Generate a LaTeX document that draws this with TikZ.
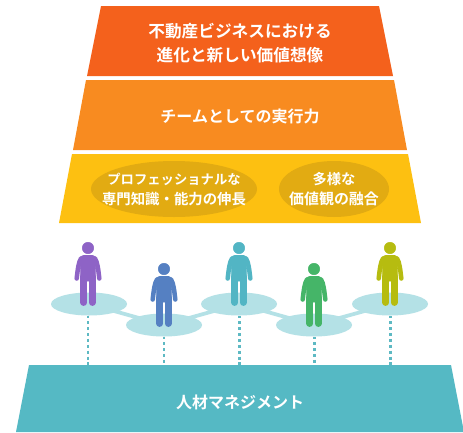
\documentclass[tikz,border=0pt]{standalone}
\usepackage{fontspec}
\setmainfont{Noto Sans CJK JP}[BoldFont={Noto Sans CJK JP Bold}]
\usetikzlibrary{shapes.geometric}
\definecolor{cTop}{HTML}{F4611C}
\definecolor{cMid}{HTML}{F88B20}
\definecolor{cLow}{HTML}{FDC011}
\definecolor{cOval}{HTML}{E2AB12}
\definecolor{cBase}{HTML}{55B9C4}
\definecolor{cDisc}{HTML}{B4E1E6}
\definecolor{cDot}{HTML}{5DB9C3}
\definecolor{pA}{HTML}{8E63C6}
\definecolor{pB}{HTML}{5580C2}
\definecolor{pC}{HTML}{52B5C4}
\definecolor{pD}{HTML}{45B568}
\definecolor{pE}{HTML}{B6BC10}
\newcommand{\fs}[1]{\fontsize{#1pt}{15pt}\selectfont}
\tikzset{
  x=0.75pt,y=-0.75pt,
  label/.style={text=white,font=\bfseries,align=center,inner sep=0pt},
  big/.style={label,font=\fontsize{12.5pt}{18pt}\selectfont\bfseries},
  mid/.style={label,font=\fontsize{12pt}{18pt}\selectfont\bfseries},
  small/.style={label,font=\fontsize{10pt}{15pt}\selectfont\bfseries},
  oval/.style={ellipse,fill=cOval,inner sep=0pt},
  disc/.style={ellipse,fill=cDisc,inner sep=0pt,outer sep=0pt,minimum width=57pt,minimum height=17.25pt},
  link/.style={cDisc,line width=2.8pt},
  tie/.style={cDot,line width=1.6pt,dash pattern=on 2.2pt off 2.2pt},
  person/.pic={
    \fill[pic actions] (0,0) circle[radius=5.7];
    \fill[pic actions,rounded corners=2.5pt] (-8,7.5) -- (8,7.5) -- (7,33) -- (-7,33) -- cycle;
    \draw[pic actions,line width=5pt,line cap=round,fill=none] (-4.2,28) -- (-4.2,54.6);
    \draw[pic actions,line width=5pt,line cap=round,fill=none] (4.2,28) -- (4.2,54.6);
    \draw[pic actions,line width=3.4pt,line cap=round,line join=round,fill=none] (-7,10.5) .. controls (-9.5,14) and (-10.3,22) .. (-11.3,30.5);
    \draw[pic actions,line width=3.4pt,line cap=round,line join=round,fill=none] (7,10.5) .. controls (9.5,14) and (10.3,22) .. (11.3,30.5);
  }
}
\begin{document}
\begin{tikzpicture}
\useasboundingbox (0,0) rectangle (463,432);
\fill[white] (0,0) rectangle (463,432);
% tiers
\fill[cTop] (101,6) -- (379,6) -- (393,76) -- (87,76) -- cycle;
\fill[cMid] (86,80) -- (394,80) -- (407,150) -- (73,150) -- cycle;
\fill[cLow] (72,154) -- (408,154) -- (421,223) -- (59,223) -- cycle;
\fill[cBase] (29,365) -- (451,365) -- (464,432) -- (16,432) -- cycle;
\node[oval,minimum width=124.5pt,minimum height=42pt] (o1) at (174,189) {};
\node[oval,minimum width=82.5pt,minimum height=42pt] (o2) at (334,189) {};
% texts
\node[big] (t1) at (240,43) {不動産ビジネスにおける\\進化と新しい価値想像};
\node[mid] (t2) at (240,116) {チームとしての実行力};
\node[small] (t3) at (174,189) {\fs{10}プロフェッショナルな\\\fs{10.8}専門知識・能力の伸長};
\node[small] (t4) at (334,189) {\fs{10.7}多様な\\\fs{11.2}価値観の融合};
\node[mid] (t5) at (240,402) {人材マネジメント};
% discs
\node[disc] (d1) at (89,304) {};
\node[disc] (d2) at (164,325) {};
\node[disc] (d3) at (239,304) {};
\node[disc] (d4) at (314,325) {};
\node[disc] (d5) at (390,304) {};
\draw[link] (d1.center) -- (d2.center);
\draw[link] (d2.center) -- (d3.center);
\draw[link] (d3.center) -- (d4.center);
\draw[link] (d4.center) -- (d5.center);
\coordinate (b1) at (88,365);
\coordinate (b2) at (164,365);
\coordinate (b3) at (239.5,365);
\coordinate (b4) at (314.5,365);
\coordinate (b5) at (390.5,365);
\draw[tie] (b1 |- d1.south) -- (b1);
\draw[tie] (b2 |- d2.south) -- (b2);
\draw[tie] (b3 |- d3.south) -- (b3);
\draw[tie] (b4 |- d4.south) -- (b4);
\draw[tie] (b5 |- d5.south) -- (b5);
% people
\pic[fill=pA,draw=pA] at (88,248) {person};
\pic[fill=pB,draw=pB] at (164,269) {person};
\pic[fill=pC,draw=pC] at (239,248) {person};
\pic[fill=pD,draw=pD] at (314,269) {person};
\pic[fill=pE,draw=pE] at (390,248) {person};
\end{tikzpicture}
\end{document}
